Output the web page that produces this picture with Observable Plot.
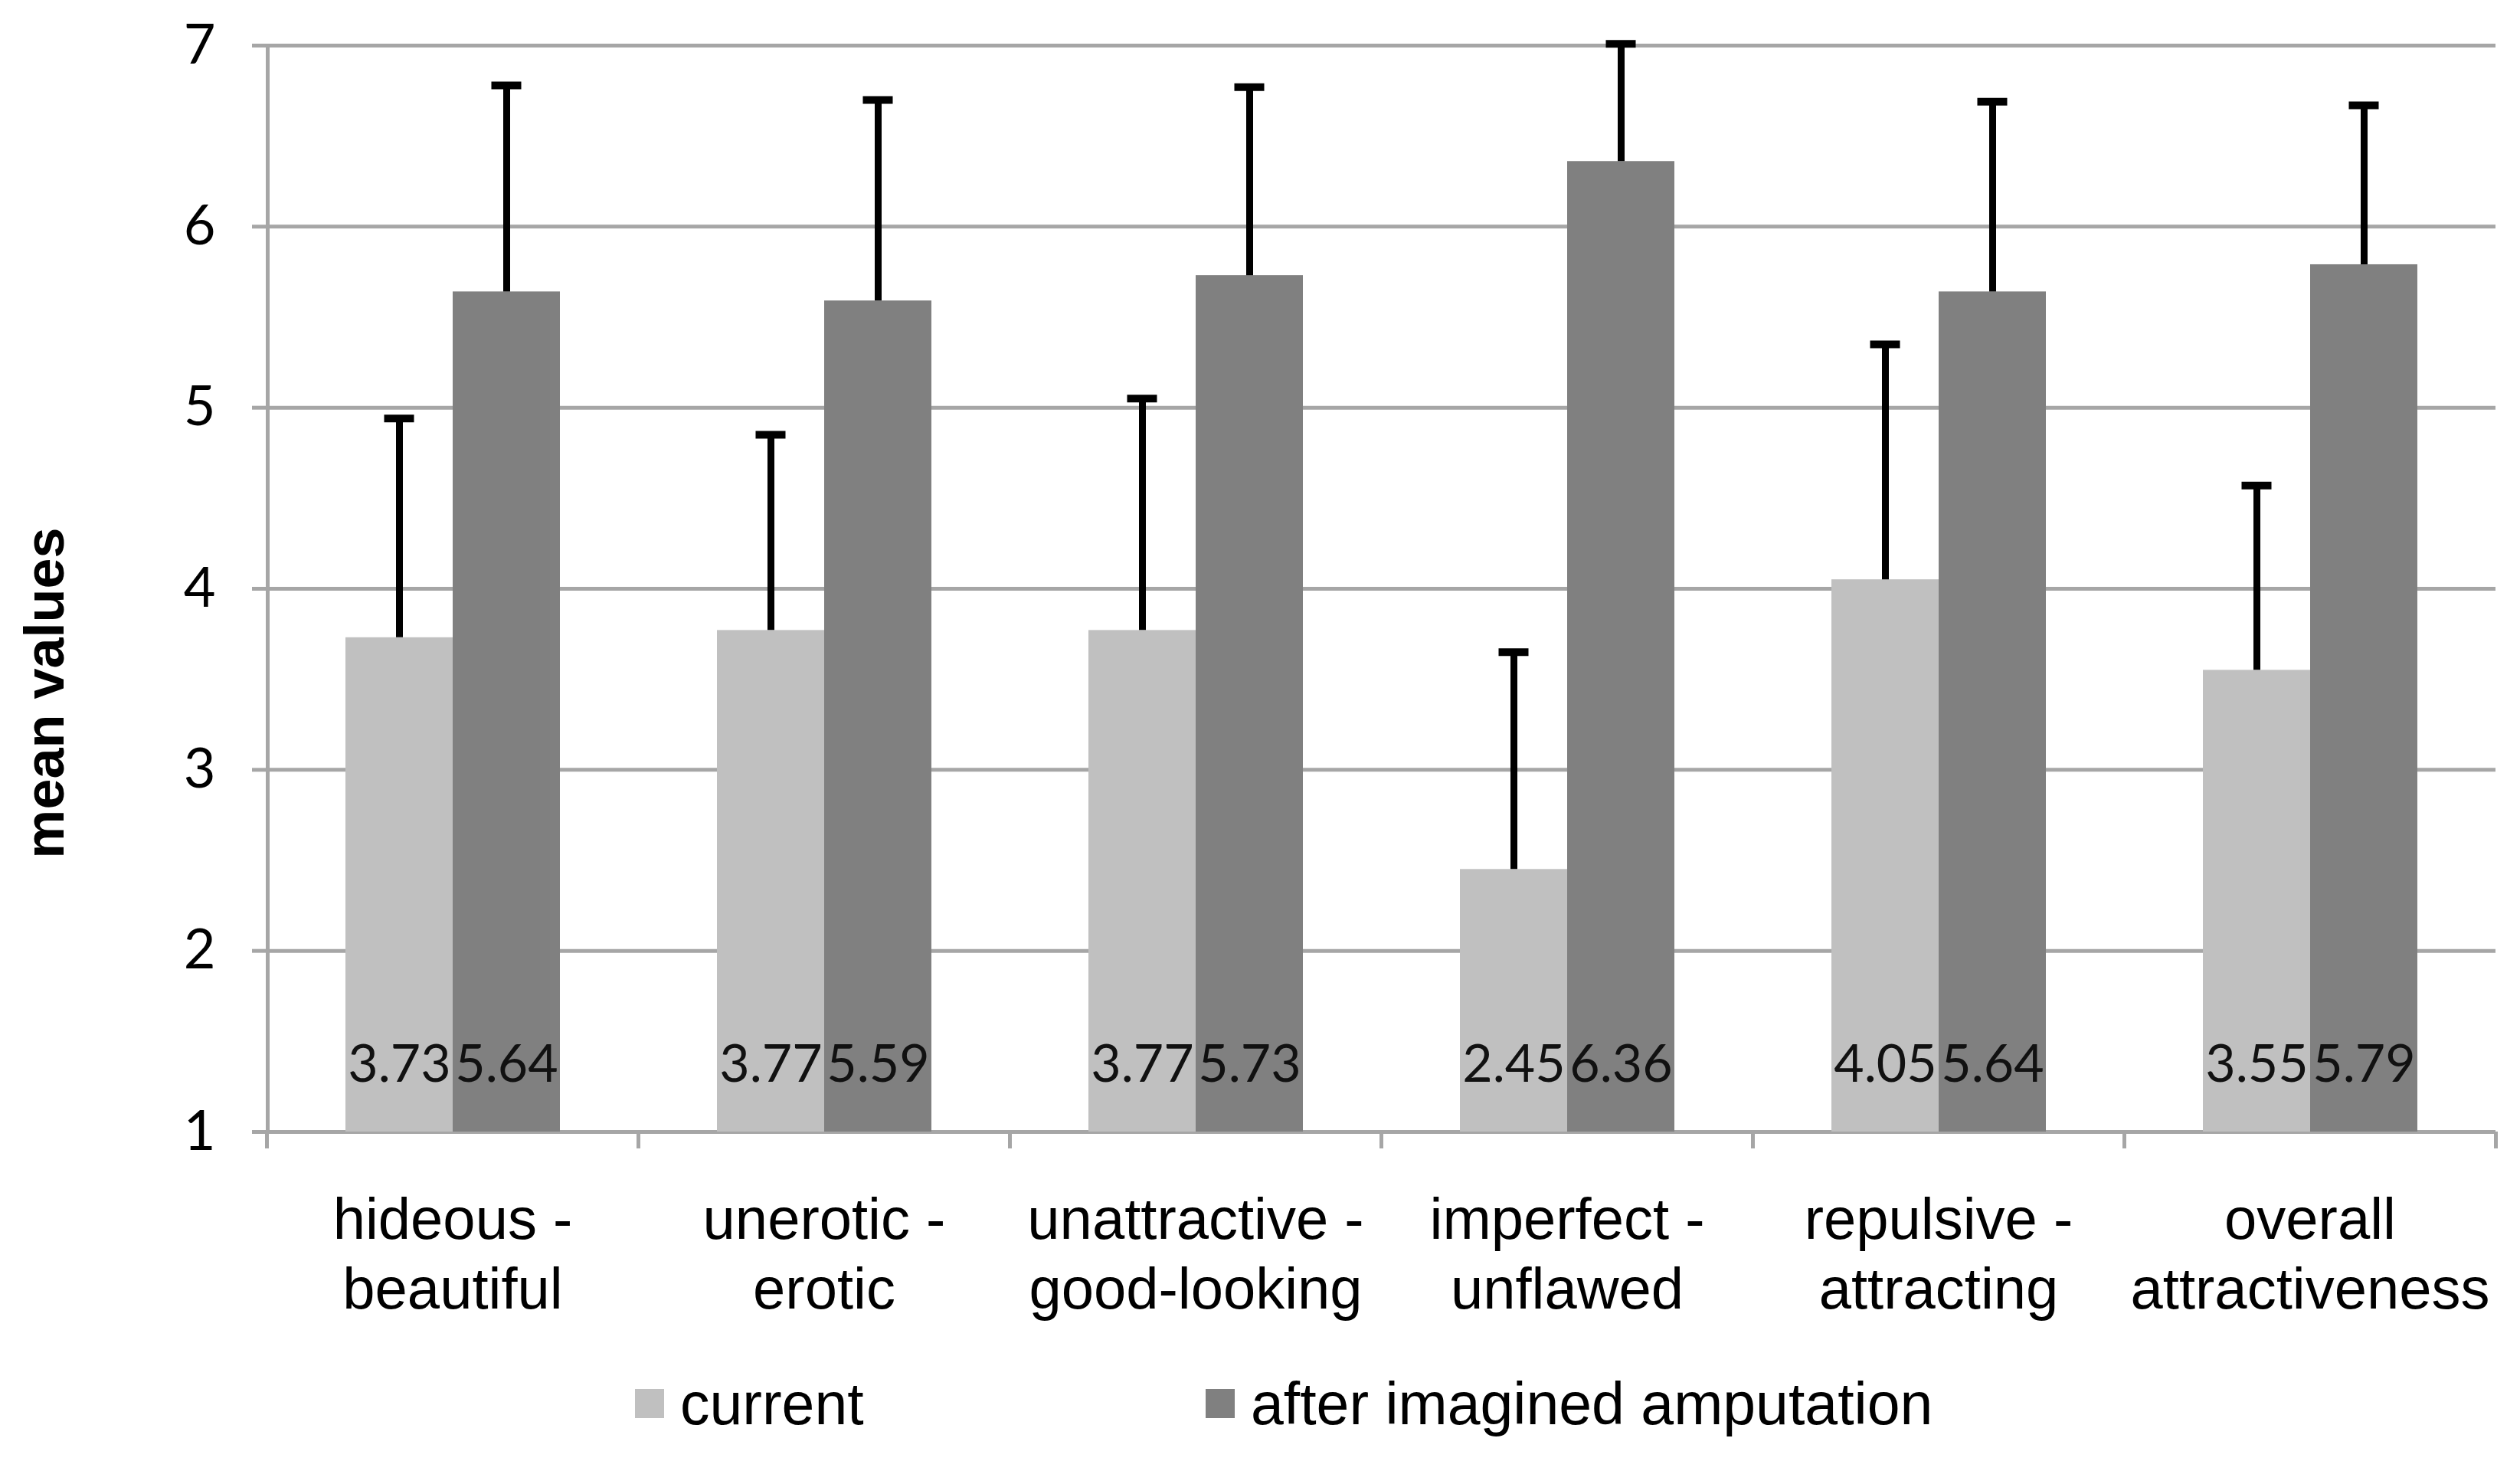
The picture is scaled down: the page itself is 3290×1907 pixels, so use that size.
<!DOCTYPE html>
<html>
<head>
<meta charset="utf-8">
<script src="https://cdn.jsdelivr.net/npm/d3@7"></script>
<script src="https://cdn.jsdelivr.net/npm/@observablehq/plot@0.6"></script>
<style>
  body { margin: 0; background: #fff; }
  #wrap { width: 3290px; }
  .legend { position: relative; height: 147px; font-family: "Liberation Sans", Arial, sans-serif; font-size: 77px; color: #000; }
  .item { position: absolute; top: 17px; height: 110px; display: flex; align-items: center; white-space: nowrap; }
  .sw { width: 38px; height: 38px; margin-right: 21px; }
</style>
</head>
<body>
<div id="wrap">
  <div id="chart"></div>
  <div class="legend" id="legend"></div>
</div>
<script>
// ---- data ----
const categories = [
  "hideous -\nbeautiful",
  "unerotic -\nerotic",
  "unattractive -\ngood-looking",
  "imperfect -\nunflawed",
  "repulsive -\nattracting",
  "overall\nattractiveness"
];
const series = ["current", "after imagined amputation"];
const currentMeans = [3.73, 3.77, 3.77, 2.45, 4.05, 3.55];
const afterMeans   = [5.64, 5.59, 5.73, 6.36, 5.64, 5.79];
const currentSD    = [1.21, 1.08, 1.28, 1.20, 1.30, 1.02];
const afterSD      = [1.14, 1.11, 1.04, 0.65, 1.05, 0.88];
const yTicks = [1, 2, 3, 4, 5, 6, 7];
const seriesColors = ["#c0c0c0", "#808080"];

const rows = categories.flatMap((c, i) => [
  {category: c, series: series[0], mean: currentMeans[i], sd: currentSD[i]},
  {category: c, series: series[1], mean: afterMeans[i], sd: afterSD[i]}
]);

// ---- layout ----
const W = 3290, H = 1760, ML = 348, MR = 32, MT = 59, MB = H - 1477;
const step = (W - ML - MR) / categories.length;
const po = 0.72;
const bw = step / (2 + 2 * po);
const capW = 40;
const gridColor = "#a6a6a6";
const catFont = "'Liberation Sans', Arial, sans-serif";

const chart = Plot.plot({
  width: W, height: H,
  marginLeft: ML, marginRight: MR, marginTop: MT, marginBottom: MB,
  style: {background: "#fff", overflow: "visible"},
  fx: {domain: categories, padding: 0, label: null, axis: null},
  x: {domain: series, paddingInner: 0, paddingOuter: po, axis: null},
  y: {domain: [1, 7], axis: null},
  color: {domain: series, range: seriesColors},
  marks: [
    Plot.gridY({ticks: yTicks, stroke: gridColor, strokeOpacity: 1, strokeWidth: 5}),
    Plot.axisY({ticks: yTicks, tickSize: 19, tickPadding: 48, tickFormat: d3.format("d"),
      stroke: gridColor, strokeWidth: 5, fill: "#000", fontSize: 72, fontFamily: "Lato", label: null}),
    Plot.ruleX([{c: categories[0]}], {fx: "c", x: () => series[0], y1: () => 1, y2: () => 7,
      dx: -(po * bw + bw / 2), stroke: gridColor, strokeWidth: 5}),
    Plot.barY(rows, {fx: "category", x: "series", y1: () => 1, y2: "mean", fill: "series"}),
    Plot.ruleX(rows, {fx: "category", x: "series", y1: "mean", y2: d => d.mean + d.sd,
      stroke: "#000", strokeWidth: 9}),
    Plot.tickY(rows, {fx: "category", x: "series", y: d => d.mean + d.sd, stroke: "#000",
      strokeWidth: 10, insetLeft: (bw - capW) / 2, insetRight: (bw - capW) / 2}),
    Plot.text(rows, {fx: "category", x: "series", text: d => d.mean.toFixed(2),
      frameAnchor: "bottom", dy: -66, fontSize: 68, fontFamily: "Lato", fill: "#111"}),
    Plot.axisFx({anchor: "bottom", tickSize: 0, tickPadding: 75, fontSize: 76,
      fontFamily: catFont, lineHeight: 1.2, fill: "#000", label: null}),
    Plot.axisFx({anchor: "bottom", tickSize: 22, tickFormat: () => "", dx: -step / 2,
      stroke: gridColor, strokeWidth: 5, label: null}),
    Plot.axisFx({anchor: "bottom", ticks: [categories[categories.length - 1]], tickSize: 22,
      tickFormat: () => "", dx: step / 2, stroke: gridColor, strokeWidth: 5, label: null}),
    Plot.text([{c: categories[0]}], {fx: "c", text: () => "mean values", frameAnchor: "left",
      textAnchor: "middle", rotate: -90, dx: -289, dy: 136, fontSize: 72, fontWeight: "bold",
      fontFamily: "'Liberation Sans', Arial, sans-serif", fill: "#000"})
  ]
});
document.getElementById("chart").appendChild(chart);

// ---- legend ----
const legendLeft = [829, 1574];
const legend = document.getElementById("legend");
series.forEach((s, i) => {
  const item = document.createElement("div");
  item.className = "item";
  item.style.left = legendLeft[i] + "px";
  const sw = document.createElement("div");
  sw.className = "sw";
  sw.style.background = seriesColors[i];
  const t = document.createElement("span");
  t.textContent = s;
  item.appendChild(sw);
  item.appendChild(t);
  legend.appendChild(item);
});
</script>
</body>
</html>
